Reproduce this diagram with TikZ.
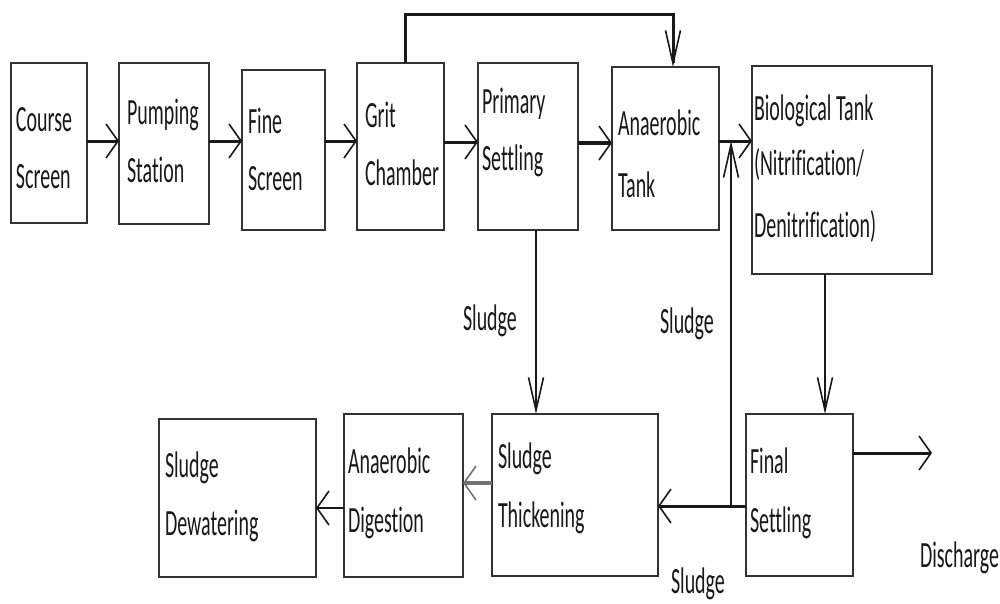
\documentclass[tikz,border=0pt]{standalone}
\usepackage{fontspec}
\newfontfamily\dfont{Carlito}[FakeStretch=0.54,Ligatures=NoCommon]
\usetikzlibrary{arrows.meta}
\tikzset{
  box/.style={draw=black!80, line width=1.4pt, inner sep=0pt, outer sep=0pt, fill=white},
  txt/.style={anchor=base west, inner sep=0pt, outer sep=0pt, font=\dfont\fontsize{37}{44}\selectfont, text=black!90},
  harrow/.style={-{Straight Barb[length=12pt,width=34pt,line width=1.6pt]}},
  varrow/.style={-{Straight Barb[length=33pt,width=15pt,line width=1.6pt]}},
  thickline/.style={line width=3pt, draw=black!90},
  thinline/.style={line width=1.3pt, draw=black!90}
}
\begin{document}
\begin{tikzpicture}[x=1pt,y=-1pt]
\useasboundingbox[fill=white] (0,0) rectangle (1000,603);
% boxes
\node[box, minimum width=76pt, minimum height=160pt] (cs) at (49,143) {};
\node[box, minimum width=90pt, minimum height=161pt] (ps) at (164,143.5) {};
\node[box, minimum width=83pt, minimum height=160pt] (fs) at (283.5,150) {};
\node[box, minimum width=87pt, minimum height=167pt] (gc) at (400.5,146.5) {};
\node[box, minimum width=100pt, minimum height=167pt] (pst) at (528,146.5) {};
\node[box, minimum width=107pt, minimum height=163pt] (at) at (665.5,148.5) {};
\node[box, minimum width=180pt, minimum height=208pt] (bt) at (842,170) {};
\node[box, minimum width=107pt, minimum height=162pt] (fset) at (799.5,495) {};
\node[box, minimum width=166pt, minimum height=162pt] (st) at (575,495) {};
\node[box, minimum width=119pt, minimum height=163pt] (ad) at (403.5,495.5) {};
\node[box, minimum width=157pt, minimum height=158pt] (sd) at (237.5,498) {};
% texts
\node[txt] (t1a) at (16,131) {Course};
\node[txt] (t1b) at (16,188) {Screen};
\node[txt] (t2a) at (127,124) {Pumping};
\node[txt] (t2b) at (127,182) {Station};
\node[txt] (t3a) at (248,133) {Fine};
\node[txt] (t3b) at (248,190) {Screen};
\node[txt] (t4a) at (365,127) {Grit};
\node[txt] (t4b) at (365,185) {Chamber};
\node[txt] (t5a) at (482,113) {Primary};
\node[txt] (t5b) at (482,170) {Settling};
\node[txt] (t6a) at (618,135) {Anaerobic};
\node[txt] (t6b) at (618,197) {Tank};
\node[txt] (t7a) at (754,120) {Biological Tank};
\node[txt] (t7b) at (754,175) {(Nitrification/};
\node[txt] (t7c) at (754,237) {Denitrification)};
\node[txt] (t8a) at (165,477) {Sludge};
\node[txt] (t8b) at (165,535) {Dewatering};
\node[txt] (t9a) at (348,473) {Anaerobic};
\node[txt] (t9b) at (348,532) {Digestion};
\node[txt] (t10a) at (498,468) {Sludge};
\node[txt] (t10b) at (498,527) {Thickening};
\node[txt] (t11a) at (750,473) {Final};
\node[txt] (t11b) at (750,532) {Settling};
\node[txt] (dis) at (920,567) {Discharge};
\node[txt] (sl1) at (463,330) {Sludge};
\node[txt] (sl2) at (660,333) {Sludge};
\node[txt] (sl3) at (671,593) {Sludge};
% connectors, top row
\draw[thickline, harrow] (cs.east |- 0,141) -- (ps.west |- 0,141);
\draw[thickline, harrow] (ps.east |- 0,141) -- (fs.west |- 0,141);
\draw[thickline, harrow] (fs.east |- 0,141) -- (gc.west |- 0,141);
\draw[thickline, harrow] (gc.east |- 0,142) -- (pst.west |- 0,142);
\draw[line width=4.5pt, draw=black!90, harrow] (pst.east |- 0,143) -- (at.west |- 0,143);
\draw[thickline, harrow] (at.east |- 0,141) -- (bt.west |- 0,141);
% bypass from grit chamber to anaerobic tank
\draw[line width=3pt, draw=black!90, varrow] (gc.north -| 405,0) |- (673,14) -- (at.north -| 673,0);
% vertical sludge lines
\draw[thinline, varrow] (pst.south -| 536,0) -- (st.north -| 536,0);
\draw[thinline, varrow] (bt.south -| 825,0) -- (fset.north -| 825,0);
% final settling to thickening and return sludge
\coordinate (jn) at (731,506);
\coordinate (jt) at (731,141);
\draw[thickline, harrow] (fset.west |- 0,506) -- (st.east |- 0,506);
\draw[line width=1.6pt, draw=black!90, varrow] (jn) -- (jt);
% bottom row
\draw[line width=3.5pt, draw=black!55, harrow] (st.west |- 0,483) -- (ad.east |- 0,483);
\draw[line width=1.6pt, draw=black!90, harrow] (ad.west |- 0,508) -- (sd.east |- 0,508);
\coordinate (dend) at (932,453);
\draw[thickline, harrow] (fset.east |- 0,453) -- (dend);
\end{tikzpicture}
\end{document}
